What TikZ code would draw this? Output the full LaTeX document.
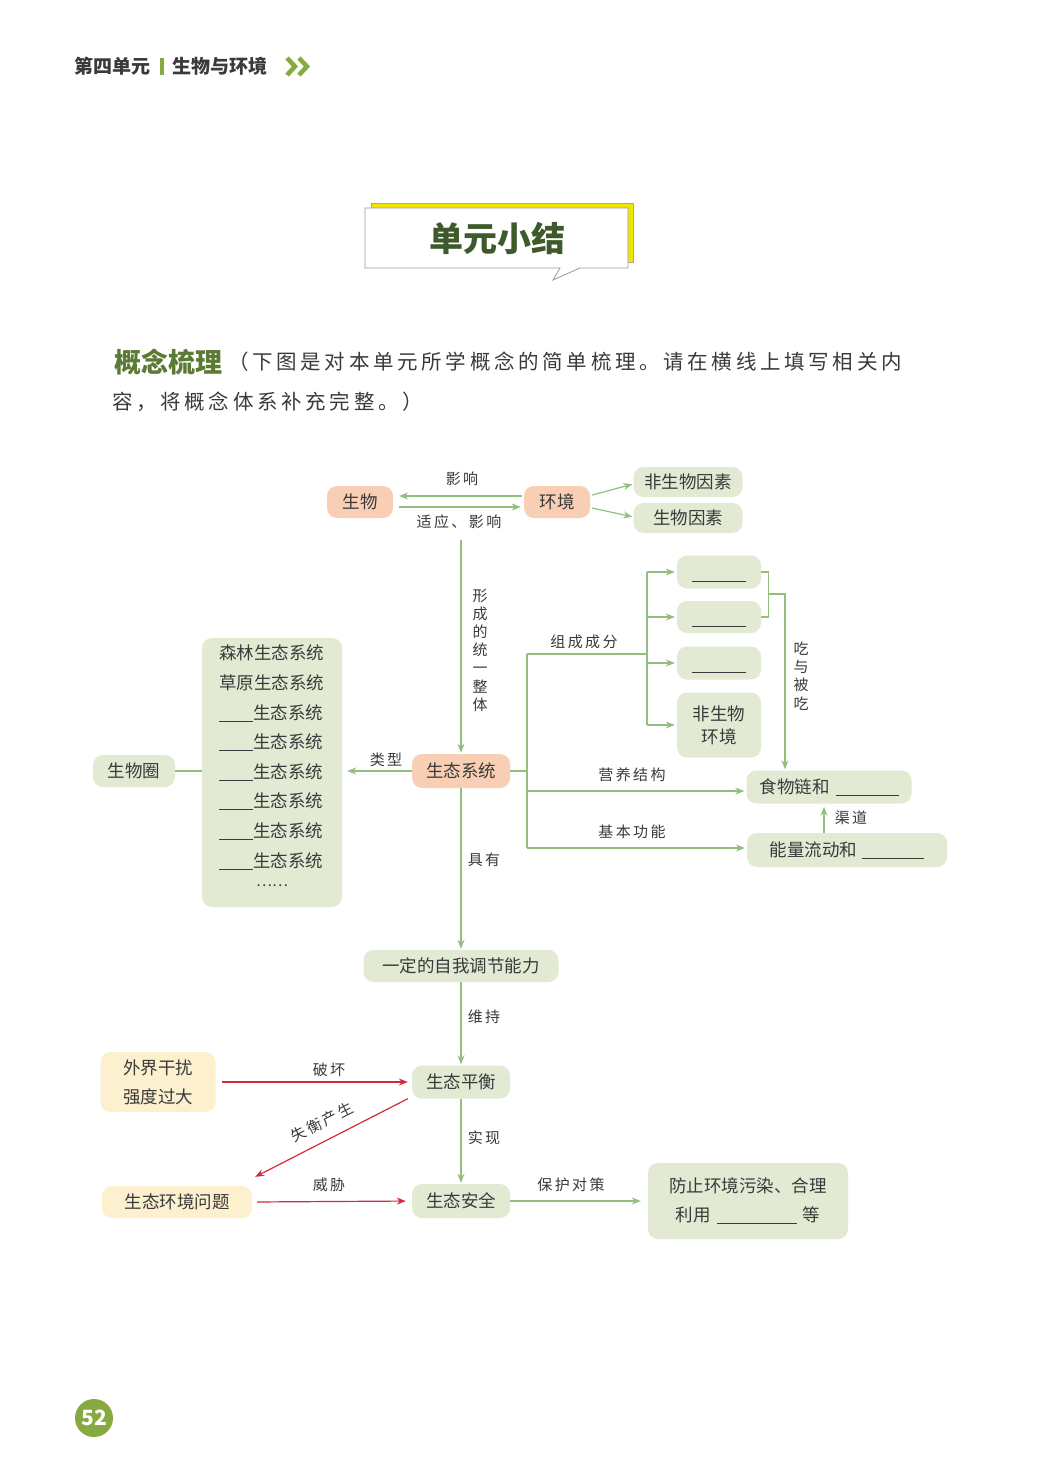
\documentclass[tikz,border=0pt]{standalone}
\usepackage{fontspec}
\setmainfont{Noto Sans CJK SC}
\newfontfamily\labfont{Noto Sans CJK SC}[LetterSpace=16]
\newfontfamily\parafont{Noto Sans CJK SC}[LetterSpace=18]
\usetikzlibrary{arrows.meta,calc}
\definecolor{gline}{HTML}{93BF7E}
\definecolor{salm}{HTML}{F8CEB4}
\definecolor{gbox}{HTML}{E3EAD4}
\definecolor{ybox}{HTML}{FDF0CF}
\definecolor{redl}{HTML}{D42A40}
\definecolor{txt}{HTML}{3A3A3A}
\definecolor{hgreen}{HTML}{86A942}
\definecolor{tgreen}{HTML}{3E5A2A}
\definecolor{pgreen}{HTML}{5A7A35}
\definecolor{ttlyel}{HTML}{F2E600}
\newcommand\blankline[1]{\rule[-2pt]{#1pt}{0.8pt}}
\tikzset{
  base/.style={rounded corners=10pt, inner sep=0pt, text=txt, font=\fontsize{17.5}{23}\selectfont, align=center},
  salbox/.style={base, fill=salm},
  grnbox/.style={base, fill=gbox},
  yelbox/.style={base, fill=ybox},
  gl/.style={draw=gline, line width=1.2pt},
  garrow/.style={gl, -{Stealth[length=9pt,width=7pt]}},
  rarrow/.style={draw=redl, line width=1.2pt, -{Stealth[length=9pt,width=7pt]}},
  lab/.style={inner sep=0pt, text=txt, font=\labfont\fontsize{15}{18.2}\selectfont, align=center},
  listline/.style={inner sep=0pt, anchor=west, text=txt, font=\fontsize{17.5}{20}\selectfont}
}
\begin{document}
\begin{tikzpicture}[x=1pt,y=-1pt]
\useasboundingbox (0,0) rectangle (1043,1474);
\fill[white] (0,0) rectangle (1043,1474);

% header
\node[anchor=west, inner sep=0pt, font=\bfseries\fontsize{19}{19}\selectfont, text=txt] (h1) at (74,66) {第四单元};
\fill[hgreen] (160,58) rectangle (164,75);
\node[anchor=west, inner sep=0pt, font=\bfseries\fontsize{19}{19}\selectfont, text=txt] (h2) at (172,66) {生物与环境};
\draw[hgreen, line width=4.5pt] (287,58) -- (295,66.5) -- (287,75);
\draw[hgreen, line width=4.5pt] (299,58) -- (307,66.5) -- (299,75);

% title
\filldraw[fill=ttlyel, draw=gray!70, line width=0.8pt] (371,203) rectangle (633,262);
\filldraw[fill=white, draw=gray!80, line width=0.8pt] (365,208) -- (628,208) -- (628,268) -- (580,268) -- (553,280) -- (560,268) -- (365,268) -- cycle;
\node[inner sep=0pt, font=\bfseries\fontsize{34}{34}\selectfont, text=tgreen] (ttl) at (497,238) {单元小结};

% paragraph
\node[anchor=west, inner sep=0pt, font=\bfseries\fontsize{27}{27}\selectfont, text=pgreen] (p0) at (114,362) {概念梳理};
\node[anchor=west, inner sep=0pt, font=\parafont\fontsize{20.5}{20.5}\selectfont, text=txt] (p1) at (228,362) {（下图是对本单元所学概念的简单梳理。请在横线上填写相关内};
\node[anchor=west, inner sep=0pt, font=\parafont\fontsize{20.5}{20.5}\selectfont, text=txt] (p2) at (112,402) {容，将概念体系补充完整。）};

% top row
\node[salbox, minimum width=66, minimum height=32] (sw) at (360,502) {生物};
\node[salbox, minimum width=66, minimum height=32] (hj) at (557,502) {环境};
\node[grnbox, minimum width=109, minimum height=30] (fsw) at (688,482) {非生物因素};
\node[grnbox, minimum width=109, minimum height=30] (swy) at (688,518) {生物因素};
\draw[garrow, shorten >=6pt, shorten <=2pt] ([yshift=6pt]hj.west) -- ([yshift=6pt]sw.east);
\draw[garrow, shorten <=6pt, shorten >=3pt] ([yshift=-5pt]sw.east) -- ([yshift=-5pt]hj.west);
\node[lab] (l1) at (462,479) {影响};
\node[lab] (l2) at (459,522) {适应、影响};
\draw[garrow, shorten >=1pt] ([shift={(2pt,7pt)}]hj.east) -- ([yshift=-2pt]fsw.west);
\draw[garrow, shorten >=1pt] ([shift={(2pt,-6pt)}]hj.east) -- ([yshift=1pt]swy.west);

% ecosystem
\node[salbox, minimum width=98, minimum height=34] (st) at (461,771) {生态系统};
\coordinate (topc) at (461,540);
\draw[garrow, shorten >=1pt] (topc) -- (st.north);
\node[lab] (l3) at (480,650) {形\\成\\的\\统\\一\\整\\体};

% list of types
\node[grnbox, minimum width=140, minimum height=269] (lst) at (272,772.5) {};
\node[listline] (li1) at (219,653) {森林生态系统};
\node[listline] (li2) at (219,683) {草原生态系统};
\node[listline] (li3) at (219,713) {\blankline{34}生态系统};
\node[listline] (li4) at (219,742) {\blankline{34}生态系统};
\node[listline] (li5) at (219,772) {\blankline{34}生态系统};
\node[listline] (li6) at (219,801) {\blankline{34}生态系统};
\node[listline] (li7) at (219,831) {\blankline{34}生态系统};
\node[listline] (li8) at (219,861) {\blankline{34}生态系统};
\node[inner sep=0pt, text=txt, font=\fontsize{15}{15}\selectfont] (li9) at (272,886) {……};
\node[grnbox, minimum width=82, minimum height=32] (swq) at (134,771) {生物圈};
\draw[gl] (swq.east) -- (swq.east -| lst.west);
\draw[garrow, shorten >=5pt] (st.west) -- (st.west -| lst.east);
\node[lab] (l4) at (386,760) {类型};

% right side
\coordinate (jt) at (527,654);
\coordinate (jm) at (527,771);
\coordinate (j2) at (527,791);
\coordinate (j3) at (527,848);
\coordinate (c0) at (647,654);
\draw[gl] (st.east) -- (jm);
\draw[gl] (jt) -- (j3);
\draw[gl] (jt) -- (c0);
\node[lab] (l5) at (584,642) {组成成分};

\node[grnbox, minimum width=84, minimum height=33] (b1) at (719,572) {\rule[-10pt]{0pt}{20pt}\rule[-10pt]{54pt}{0.8pt}};
\node[grnbox, minimum width=84, minimum height=32] (b2) at (719,617) {\rule[-10pt]{0pt}{20pt}\rule[-10pt]{54pt}{0.8pt}};
\node[grnbox, minimum width=84, minimum height=33] (b3) at (719,663) {\rule[-10pt]{0pt}{20pt}\rule[-10pt]{54pt}{0.8pt}};
\node[grnbox, minimum width=84, minimum height=65] (b4) at (719,725) {非生物\\环境};
\draw[gl] (b1.west -| c0) -- (b4.west -| c0);
\foreach \b in {b1,b2,b3,b4}{
  \draw[garrow, shorten >=2pt] (\b.west -| c0) -- (\b.west);
}

\node[grnbox, minimum width=165, minimum height=33] (fd) at (829,787) {食物链和\hspace{6pt}\blankline{63}};
\node[grnbox, minimum width=200, minimum height=34] (ny) at (847,850) {能量流动和\hspace{5pt}\blankline{62}};
\draw[garrow, shorten >=2pt] (j2) -- (j2 -| fd.west);
\draw[garrow, shorten >=2pt] (j3) -- (j3 -| ny.west);
\node[lab] (l6) at (632,775) {营养结构};
\node[lab] (l7) at (632,832) {基本功能};

% eat and be eaten
\draw[gl] (b1.east) -- ++(7,0) |- (b2.east);
\coordinate (bm) at (768,594);
\coordinate (bk) at (785,594);
\draw[garrow, shorten >=1pt] (bm) -- (bk) -- (bk |- fd.north);
\node[lab] (l8) at (801,676) {吃\\与\\被\\吃};

% channel
\coordinate (qd) at (824,0);
\draw[garrow, shorten >=3pt] (ny.north -| qd) -- (fd.south -| qd);
\node[lab] (l9) at (851,818) {渠道};

% lower chain
\node[grnbox, minimum width=195, minimum height=32] (zt) at (461,966) {一定的自我调节能力};
\draw[garrow, shorten >=1pt] (st.south) -- (zt.north);
\node[lab] (l10) at (484,860) {具有};
\node[grnbox, minimum width=98, minimum height=33] (ph) at (461,1082) {生态平衡};
\draw[garrow, shorten >=1pt] (zt.south) -- (ph.north);
\node[lab] (l11) at (484,1017) {维持};

\node[yelbox, minimum width=115, minimum height=60, font=\fontsize{17.5}{29}\selectfont] (wj) at (158,1082) {外界干扰\\强度过大};
\draw[rarrow, shorten <=6pt, shorten >=4pt] (wj.east) -- (ph.west);
\node[lab] (l12) at (329,1070) {破坏};

\node[yelbox, minimum width=150, minimum height=32] (wt) at (177,1202) {生态环境问题};
\node[grnbox, minimum width=98, minimum height=34] (aq) at (461,1201) {生态安全};
\draw[rarrow] ([xshift=-4pt]ph.south west) -- ([shift={(3pt,9pt)}]wt.north east);
\node[lab, rotate=27] (l13) at (322,1122) {失衡产生};
\draw[rarrow, shorten <=5pt, shorten >=6pt] (wt.east) -- (aq.west);
\node[lab] (l14) at (329,1185) {威胁};
\draw[garrow, shorten >=1pt] (ph.south) -- (aq.north);
\node[lab] (l15) at (484,1138) {实现};

\node[grnbox, minimum width=200, minimum height=76, font=\fontsize{17.5}{29}\selectfont] (fz) at (748,1201) {防止环境污染、合理\\利用\hspace{6pt}\blankline{80}\hspace{6pt}等};
\draw[garrow, shorten >=7pt] (aq.east) -- (fz.west);
\node[lab] (l16) at (571,1185) {保护对策};

% page number
\fill[hgreen] (94,1418) circle (19);
\node[inner sep=0pt, text=white, font=\bfseries\fontsize{21}{21}\selectfont] (pg) at (94,1418) {52};
\end{tikzpicture}
\end{document}
